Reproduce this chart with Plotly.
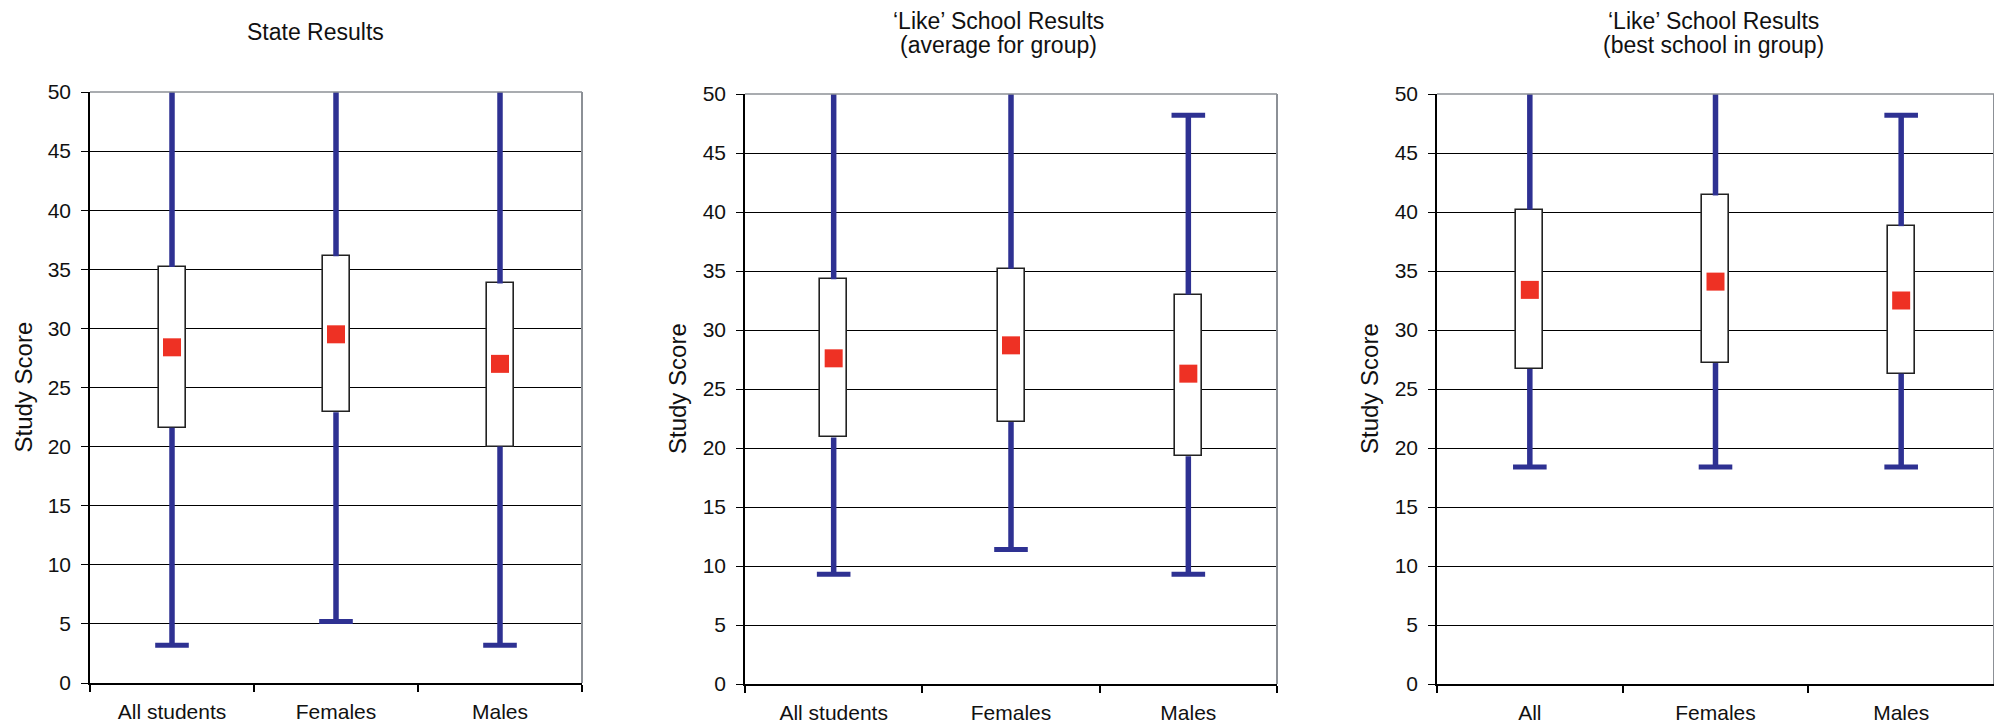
import plotly.graph_objects as go

# The page places the figure 8 px from the top-left corner, so the figure is
# sized to fill the rest of the window and all pixel geometry is shifted by OFF.
OFF = 8
W, H = 2002 - OFF, 724 - OFF

# ---- data ----
cats_state = ["All students", "Females", "Males"]
cats_avg = ["All students", "Females", "Males"]
cats_best = ["All", "Females", "Males"]

state_min = [3.2, 5.2, 3.2]
state_q1 = [21.6, 22.9, 20.0]
state_mean = [28.4, 29.5, 27.0]
state_q3 = [35.2, 36.1, 33.8]
state_max = [50.2, 50.2, 50.2]

avg_min = [9.3, 11.4, 9.3]
avg_q1 = [20.9, 22.2, 19.3]
avg_mean = [27.6, 28.7, 26.3]
avg_q3 = [34.3, 35.2, 33.0]
avg_max = [50.2, 50.2, 48.2]

best_min = [18.4, 18.4, 18.4]
best_q1 = [26.7, 27.2, 26.3]
best_mean = [33.4, 34.1, 32.5]
best_q3 = [40.2, 41.4, 38.8]
best_max = [50.2, 50.2, 48.2]

titles = [["State Results"],
          ["\u2018Like\u2019 School Results", "(average for group)"],
          ["\u2018Like\u2019 School Results", "(best school in group)"]]
ytitle = "Study Score"

# ---- layout geometry (pixels in the 2002x724 screenshot) ----
panels = [
    dict(x0=90, x1=582, ytop=92, ybot=683, title_x=315, title_y=[32], ylab_x=23),
    dict(x0=745, x1=1277, ytop=94, ybot=684, title_x=998, title_y=[21, 45], ylab_x=678),
    dict(x0=1437, x1=1994, ytop=94, ybot=684, title_x=1713, title_y=[21, 45], ylab_x=1370),
]
datasets = [
    (cats_state, state_min, state_q1, state_mean, state_q3, state_max),
    (cats_avg, avg_min, avg_q1, avg_mean, avg_q3, avg_max),
    (cats_best, best_min, best_q1, best_mean, best_q3, best_max),
]

BLUE = "#2E3192"
RED = "#EE3124"
FONT = "Liberation Sans"
TXT = "#111111"
BOX_PX = 27


def px_x(v):
    return (v - OFF) / W


def px_y(v):
    return 1 - (v - OFF) / H


fig = go.Figure()
annotations = []
shapes = []

for i, (p, d) in enumerate(zip(panels, datasets)):
    cats, mn, q1, mean, q3, mx = d
    xa = "x" if i == 0 else f"x{i+1}"
    ya = "y" if i == 0 else f"y{i+1}"
    band = (p["x1"] - p["x0"]) / len(cats)
    bw = BOX_PX / band

    # whiskers (below and above box)
    wx, wy = [], []
    for c, a, b, e, f in zip(cats, mn, q1, q3, mx):
        wx += [c, c, None, c, c, None]
        wy += [a, b, None, e, f, None]
    fig.add_trace(go.Scatter(x=wx, y=wy, mode="lines", line=dict(color=BLUE, width=5.5),
                             cliponaxis=False,
                             xaxis=xa, yaxis=ya, showlegend=False, hoverinfo="skip"))
    # caps
    fig.add_trace(go.Scatter(x=cats + cats, y=mn + mx, mode="markers",
                             marker=dict(symbol="line-ew", size=24,
                                         line=dict(color=BLUE, width=5)),
                             cliponaxis=False,
                             xaxis=xa, yaxis=ya, showlegend=False, hoverinfo="skip"))
    # boxes
    fig.add_trace(go.Bar(x=cats, y=[b - a for a, b in zip(q1, q3)], base=q1, width=bw,
                         marker=dict(color="white", line=dict(color="#222222", width=1.6)),
                         xaxis=xa, yaxis=ya, showlegend=False, hoverinfo="skip"))
    # means
    fig.add_trace(go.Scatter(x=cats, y=mean, mode="markers",
                             marker=dict(symbol="square", size=18, color=RED,
                                         line=dict(width=0)),
                             xaxis=xa, yaxis=ya, showlegend=False))

    xdom = [px_x(p["x0"]), px_x(p["x1"])]
    ydom = [px_y(p["ybot"]), px_y(p["ytop"])]
    key = "" if i == 0 else str(i + 1)
    fig.update_layout(**{
        f"xaxis{key}": dict(domain=xdom, anchor=ya, type="category",
                            categoryorder="array", categoryarray=cats,
                            range=[-0.5, len(cats) - 0.5], automargin=False,
                            showline=True, linecolor="black", linewidth=2,
                            ticks="outside", tickson="boundaries", ticklen=7,
                            tickcolor="black", tickwidth=1.5, showgrid=False,
                            ticklabelstandoff=9,
                            tickfont=dict(family=FONT, size=21, color=TXT),
                            fixedrange=True),
        f"yaxis{key}": dict(domain=ydom, anchor=xa, range=[0, 50], dtick=5,
                            automargin=False,
                            showline=True, linecolor="black", linewidth=1.5,
                            ticks="outside", ticklen=7, tickcolor="black", tickwidth=1.2,
                            showgrid=True, gridcolor="black", gridwidth=1.2,
                            zeroline=False, ticklabelstandoff=6,
                            tickfont=dict(family=FONT, size=21, color=TXT),
                            fixedrange=True),
    })
    # gray top and right border of plot area
    shapes.append(dict(type="line", xref=f"{xa} domain", yref=f"{ya} domain",
                       x0=0, x1=1, y0=1, y1=1, line=dict(color="#8C9096", width=1.6),
                       layer="above"))
    shapes.append(dict(type="line", xref=f"{xa} domain", yref=f"{ya} domain",
                       x0=1, x1=1, y0=0, y1=1, line=dict(color="#8C9096", width=2),
                       layer="above"))
    for line_txt, ty in zip(titles[i], p["title_y"]):
        annotations.append(dict(text=line_txt, xref="paper", yref="paper",
                                x=px_x(p["title_x"]), y=px_y(ty),
                                xanchor="center", yanchor="middle", showarrow=False,
                                font=dict(family=FONT, size=23, color=TXT)))
    annotations.append(dict(text=ytitle, xref="paper", yref="paper",
                            x=px_x(p["ylab_x"]), y=px_y((p["ytop"] + p["ybot"]) / 2),
                            textangle=-90, xanchor="center", yanchor="middle",
                            showarrow=False,
                            font=dict(family=FONT, size=24, color=TXT)))

fig.update_layout(width=W, height=H, margin=dict(l=0, r=0, t=0, b=0, autoexpand=False),
                  paper_bgcolor="white", plot_bgcolor="white",
                  annotations=annotations, shapes=shapes, bargap=0,
                  showlegend=False)

fig.write_html("out.html")
